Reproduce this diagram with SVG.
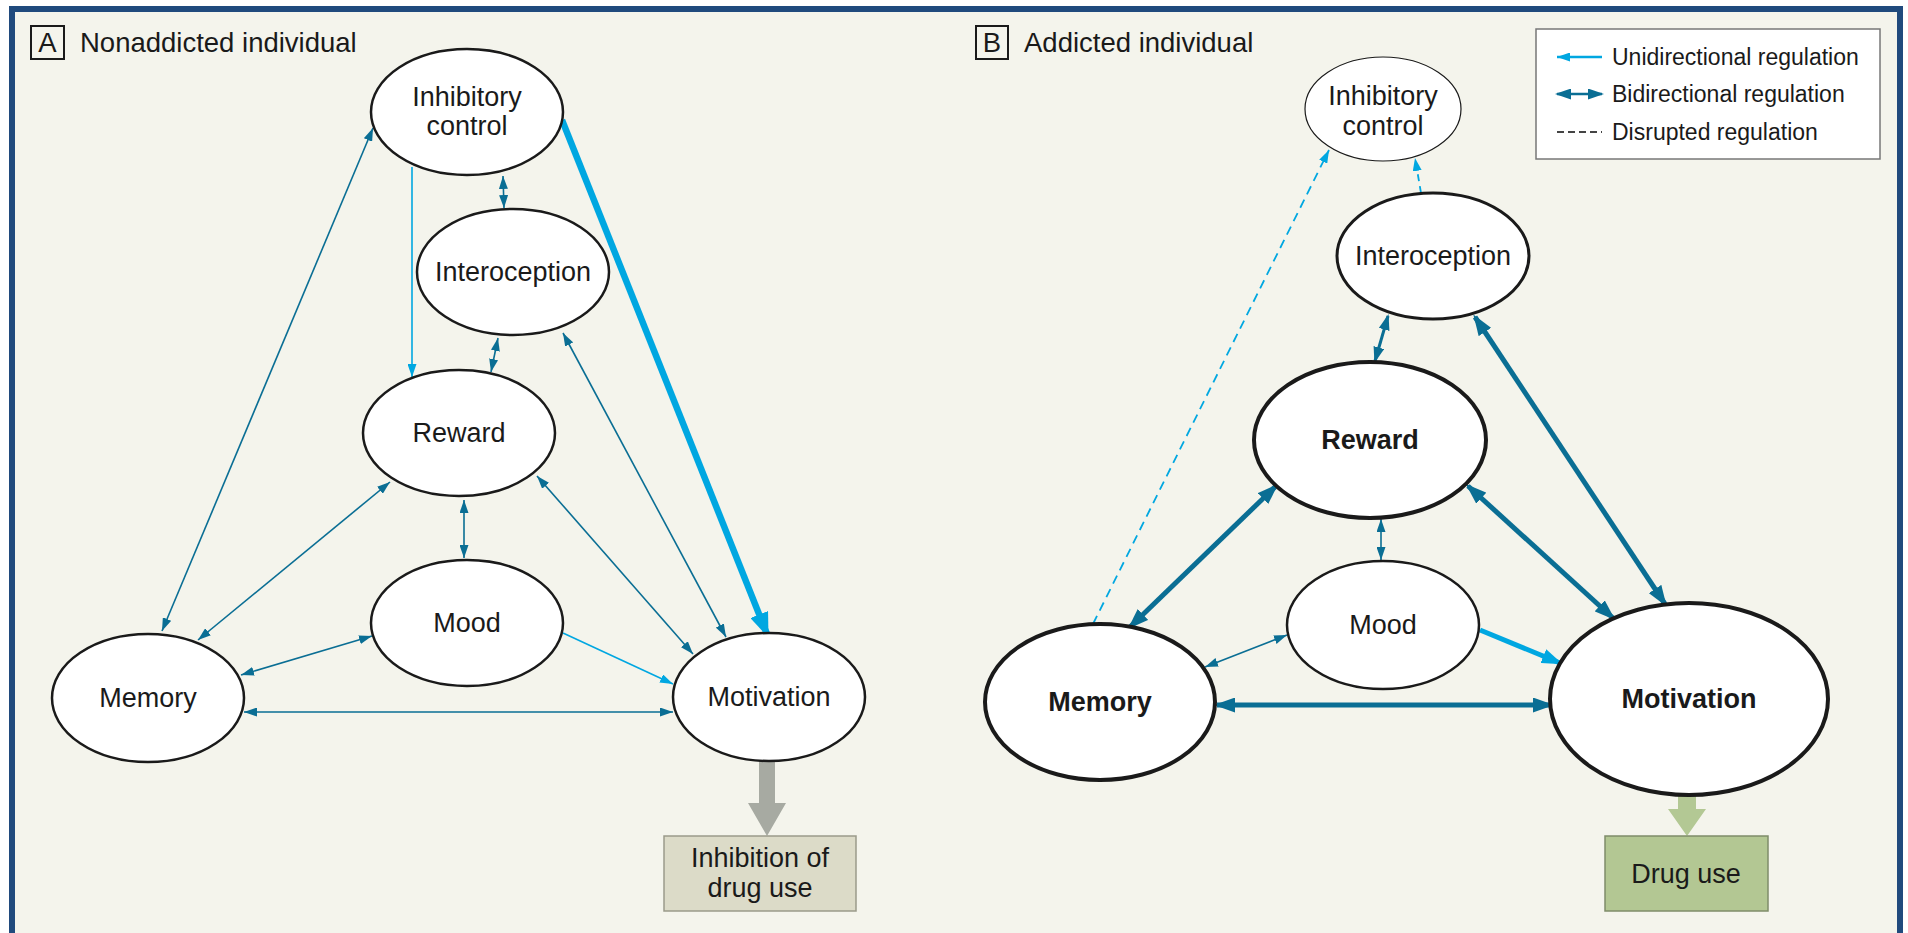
<svg xmlns="http://www.w3.org/2000/svg" width="1908" height="933" viewBox="0 0 1908 933">
<style>
text{font-family:"Liberation Sans",Arial,Helvetica,sans-serif;fill:#1a1a1a}
.lbl{font-size:27px;text-anchor:middle}
.b{font-weight:bold}
.ttl{font-size:27.5px}
.leg{font-size:23px}
.node{fill:#fff;stroke:#1a1a1a}
.dk{stroke:#0a6e94;fill:none}
.lt{stroke:#00a7e1;fill:none}
</style>
<defs>
<marker id="md" markerUnits="userSpaceOnUse" markerWidth="14" markerHeight="9" refX="13" refY="4.5" orient="auto-start-reverse"><path d="M0,0 L13,4.5 L0,9 z" fill="#0a6e94"/></marker>
<marker id="ml" markerUnits="userSpaceOnUse" markerWidth="14" markerHeight="9" refX="13" refY="4.5" orient="auto-start-reverse"><path d="M0,0 L13,4.5 L0,9 z" fill="#00a7e1"/></marker>
<marker id="mdm" markerUnits="userSpaceOnUse" markerWidth="16" markerHeight="11" refX="14" refY="5.5" orient="auto-start-reverse"><path d="M0,0 L16,5.5 L0,11 z" fill="#0a6e94"/></marker>
<marker id="mdt" markerUnits="userSpaceOnUse" markerWidth="21" markerHeight="15" refX="18" refY="7.5" orient="auto-start-reverse"><path d="M0,0 L21,7.5 L0,15 z" fill="#0a6e94"/></marker>
<marker id="mlt" markerUnits="userSpaceOnUse" markerWidth="21" markerHeight="15" refX="18" refY="7.5" orient="auto-start-reverse"><path d="M0,0 L21,7.5 L0,15 z" fill="#00a7e1"/></marker>
<marker id="mlb" markerUnits="userSpaceOnUse" markerWidth="25" markerHeight="19" refX="21" refY="9.5" orient="auto-start-reverse"><path d="M0,0 L25,9.5 L0,19 z" fill="#00a7e1"/></marker>
</defs>
<rect x="0" y="0" width="1908" height="933" fill="#fff"/>
<rect x="12" y="9" width="1888" height="940" fill="#f4f4ec" stroke="#204a7d" stroke-width="6"/>

<g id="titleA">
<rect x="31" y="26" width="33" height="33" fill="none" stroke="#1a1a1a" stroke-width="2"/>
<text x="47.5" y="52" class="ttl" text-anchor="middle">A</text>
<text x="80" y="52" class="ttl">Nonaddicted individual</text>
</g>
<g id="titleB">
<rect x="976" y="26" width="32" height="33" fill="none" stroke="#1a1a1a" stroke-width="2"/>
<text x="992" y="52" class="ttl" text-anchor="middle">B</text>
<text x="1024" y="52" class="ttl">Addicted individual</text>
</g>

<g id="legend">
<rect x="1536" y="29" width="344" height="130" fill="#fff" stroke="#777" stroke-width="1.5"/>
<line x1="1557" y1="57" x2="1602" y2="57" class="lt" stroke-width="2.5" marker-start="url(#ml)"/>
<text x="1612" y="65" class="leg">Unidirectional regulation</text>
<line x1="1557" y1="94" x2="1602" y2="94" class="dk" stroke-width="2.5" marker-start="url(#mdm)" marker-end="url(#mdm)"/>
<text x="1612" y="102" class="leg">Bidirectional regulation</text>
<line x1="1557" y1="132" x2="1602" y2="132" stroke="#444" stroke-width="2" stroke-dasharray="7,4"/>
<text x="1612" y="140" class="leg">Disrupted regulation</text>
</g>

<g id="connectors">
<!-- Panel A -->
<line x1="373" y1="128" x2="162" y2="631" class="dk" stroke-width="1.6" marker-start="url(#md)" marker-end="url(#md)"/>
<line x1="412" y1="167" x2="412" y2="377" class="lt" stroke-width="1.6" marker-end="url(#ml)"/>
<line x1="503" y1="176" x2="504" y2="208" class="dk" stroke-width="1.6" marker-start="url(#md)" marker-end="url(#md)"/>
<line x1="562" y1="120" x2="767" y2="634" class="lt" stroke-width="6.5" marker-end="url(#mlb)"/>
<line x1="498" y1="338" x2="491" y2="372" class="dk" stroke-width="1.6" marker-start="url(#md)" marker-end="url(#md)"/>
<line x1="563" y1="333" x2="726" y2="637" class="dk" stroke-width="1.6" marker-start="url(#md)" marker-end="url(#md)"/>
<line x1="390" y1="482" x2="198" y2="640" class="dk" stroke-width="1.6" marker-start="url(#md)" marker-end="url(#md)"/>
<line x1="464" y1="500" x2="464" y2="558" class="dk" stroke-width="1.6" marker-start="url(#md)" marker-end="url(#md)"/>
<line x1="537" y1="476" x2="693" y2="654" class="dk" stroke-width="1.6" marker-start="url(#md)" marker-end="url(#md)"/>
<line x1="372" y1="636" x2="241" y2="675" class="dk" stroke-width="1.6" marker-start="url(#md)" marker-end="url(#md)"/>
<line x1="563" y1="633" x2="673" y2="684" class="lt" stroke-width="1.6" marker-end="url(#ml)"/>
<line x1="244" y1="712" x2="673" y2="712" class="dk" stroke-width="1.6" marker-start="url(#md)" marker-end="url(#md)"/>
<path d="M759,760 L775,760 L775,803 L786,803 L767,836 L748,803 L759,803 z" fill="#a7aaa2"/>
<!-- Panel B -->
<line x1="1093" y1="624" x2="1329" y2="150" class="lt" stroke-width="1.8" stroke-dasharray="9,6" marker-end="url(#ml)"/>
<line x1="1421" y1="193" x2="1415" y2="158" class="lt" stroke-width="1.8" stroke-dasharray="7,5" marker-end="url(#ml)"/>
<line x1="1388" y1="316" x2="1375" y2="361" class="dk" stroke-width="3" marker-start="url(#mdm)" marker-end="url(#mdm)"/>
<line x1="1475" y1="317" x2="1665" y2="604" class="dk" stroke-width="5" marker-start="url(#mdt)" marker-end="url(#mdt)"/>
<line x1="1276" y1="486" x2="1130" y2="627" class="dk" stroke-width="5" marker-start="url(#mdt)" marker-end="url(#mdt)"/>
<line x1="1381" y1="519" x2="1381" y2="560" class="dk" stroke-width="1.6" marker-start="url(#md)" marker-end="url(#md)"/>
<line x1="1468" y1="486" x2="1613" y2="618" class="dk" stroke-width="5" marker-start="url(#mdt)" marker-end="url(#mdt)"/>
<line x1="1287" y1="635" x2="1205" y2="667" class="dk" stroke-width="1.6" marker-start="url(#md)" marker-end="url(#md)"/>
<line x1="1480" y1="630" x2="1560" y2="663" class="lt" stroke-width="5" marker-end="url(#mlt)"/>
<line x1="1217" y1="705" x2="1551" y2="705" class="dk" stroke-width="5" marker-start="url(#mdt)" marker-end="url(#mdt)"/>
<path d="M1678,792 L1696,792 L1696,809 L1706,809 L1687,836 L1668,809 L1678,809 z" fill="#b3c894"/>
</g>

<g id="A-inhibitory">
<ellipse cx="467" cy="112" rx="96" ry="63" class="node" stroke-width="2.5"/>
<text x="467" y="106" class="lbl">Inhibitory</text>
<text x="467" y="135" class="lbl">control</text>
</g>
<g id="A-interoception">
<ellipse cx="513" cy="272" rx="96" ry="63" class="node" stroke-width="2.5"/>
<text x="513" y="281" class="lbl">Interoception</text>
</g>
<g id="A-reward">
<ellipse cx="459" cy="433" rx="96" ry="63" class="node" stroke-width="2.5"/>
<text x="459" y="442" class="lbl">Reward</text>
</g>
<g id="A-mood">
<ellipse cx="467" cy="623" rx="96" ry="63" class="node" stroke-width="2.5"/>
<text x="467" y="632" class="lbl">Mood</text>
</g>
<g id="A-memory">
<ellipse cx="148" cy="698" rx="96" ry="64" class="node" stroke-width="2.5"/>
<text x="148" y="707" class="lbl">Memory</text>
</g>
<g id="A-motivation">
<ellipse cx="769" cy="697" rx="96" ry="64" class="node" stroke-width="2.5"/>
<text x="769" y="706" class="lbl">Motivation</text>
</g>
<g id="A-outcome">
<rect x="664" y="836" width="192" height="75" fill="#dcdbc8" stroke="#9a9a8a" stroke-width="1.5"/>
<text x="760" y="867" class="lbl">Inhibition of</text>
<text x="760" y="897" class="lbl">drug use</text>
</g>

<g id="B-inhibitory">
<ellipse cx="1383" cy="109" rx="78" ry="52" class="node" stroke="#555" stroke-width="1.2"/>
<text x="1383" y="105" class="lbl">Inhibitory</text>
<text x="1383" y="135" class="lbl">control</text>
</g>
<g id="B-interoception">
<ellipse cx="1433" cy="256" rx="96" ry="63" class="node" stroke-width="3"/>
<text x="1433" y="265" class="lbl">Interoception</text>
</g>
<g id="B-reward">
<ellipse cx="1370" cy="440" rx="116" ry="78" class="node" stroke-width="4"/>
<text x="1370" y="449" class="lbl b">Reward</text>
</g>
<g id="B-mood">
<ellipse cx="1383" cy="625" rx="96" ry="64" class="node" stroke-width="2.5"/>
<text x="1383" y="634" class="lbl">Mood</text>
</g>
<g id="B-memory">
<ellipse cx="1100" cy="702" rx="115" ry="78" class="node" stroke-width="4"/>
<text x="1100" y="711" class="lbl b">Memory</text>
</g>
<g id="B-motivation">
<ellipse cx="1689" cy="699" rx="139" ry="96" class="node" stroke-width="4"/>
<text x="1689" y="708" class="lbl b">Motivation</text>
</g>
<g id="B-outcome">
<rect x="1605" y="836" width="163" height="75" fill="#b3c793" stroke="#7f8c6a" stroke-width="1.5"/>
<text x="1686" y="883" class="lbl">Drug use</text>
</g>
</svg>
